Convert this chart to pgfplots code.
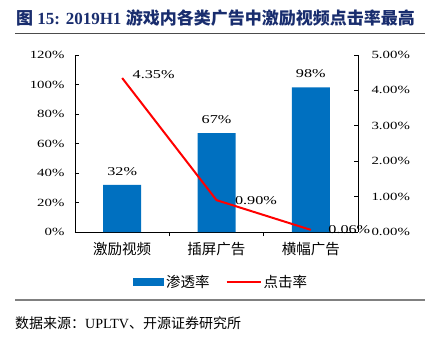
\documentclass[border=0pt]{standalone}
\usepackage{fontspec}
\setmainfont{Liberation Serif}
\newfontfamily\cjk{Noto Sans CJK SC}
\newfontfamily\numf[FakeStretch=1.35]{Liberation Serif}
\usepackage{pgfplots}
\pgfplotsset{compat=1.18}
\definecolor{barblue}{RGB}{0,112,192}
\definecolor{titleblue}{RGB}{25,45,110}
\begin{document}
\begin{tikzpicture}
\path[use as bounding box] (0pt,0pt) rectangle (434pt,346pt);
\node[anchor=west, text=titleblue, font=\fontsize{17}{20}\selectfont\bfseries, inner sep=0pt] at (16pt,328pt) {{\cjk 图} 15: 2019H1 {\cjk 游戏内各类广告中激励视频点击率最高}};
\draw[gray!60!black, line width=0.8pt] (15pt,313pt) -- (425pt,313pt);
\draw[gray, line width=1.2pt] (15pt,46pt) -- (425pt,46pt);
\node[anchor=west, font=\fontsize{14}{16}\selectfont, inner sep=0pt] at (15pt,23pt) {{\cjk 数据来源：}UPLTV{\cjk 、开源证券研究所}};
\begin{axis}[at={(75pt,114pt)}, anchor=south west, scale only axis, width=283pt, height=177pt,
  xmin=-0.5, xmax=2.5, ymin=0, ymax=120,
  axis y line*=left, axis x line*=bottom,
  axis line style={black, line width=0.8pt},
  /pgf/number format/assume math mode=true,
  ytick={0,20,...,120}, yticklabel={\pgfmathprintnumber{\tick}\%},
  yticklabel style={font=\numf\fontsize{11}{12}\selectfont, xshift=-7pt},
  xtick={0,1,2}, xticklabels={激励视频,插屏广告,横幅广告},
  xticklabel style={font=\cjk\fontsize{14.5}{16}\selectfont, yshift=-3pt},
  major x tick style={draw=none},
  minor xtick={0.5,1.5},
  tick style={black, line width=0.8pt}, major tick length=4pt, minor tick length=4pt,
  ybar, bar width=38pt,
  legend style={at={(0.516,-0.282)}, anchor=center, draw=none, legend columns=2,
    /tikz/every even column/.append style={column sep=14pt},
    font=\cjk\fontsize{14.5}{16}\selectfont},
]
\addplot[fill=barblue, draw=none,
  nodes near coords={\pgfmathprintnumber{\pgfplotspointmeta}\%},
  nodes near coords style={font=\numf\fontsize{12}{13}\selectfont, yshift=6pt, black},
  legend image code/.code={\fill[barblue] (0pt,-4pt) rectangle (31pt,4pt);}]
  coordinates {(0,32) (1,67) (2,98)};
\addlegendentry{渗透率}
\addlegendimage{legend image code/.code={\draw[red,line width=2pt] (0pt,0pt) -- (34pt,0pt);}}
\addlegendentry{点击率}
\end{axis}
\begin{axis}[at={(75pt,114pt)}, anchor=south west, scale only axis, width=283pt, height=177pt,
  xmin=-0.5, xmax=2.5, ymin=0, ymax=5, clip=false,
  axis y line*=right, axis x line=none,
  axis line style={black, line width=0.8pt},
  /pgf/number format/assume math mode=true,
  ytick={0,1,...,5},
  yticklabel={\pgfmathprintnumber[fixed,fixed zerofill,precision=2]{\tick}\%},
  yticklabel style={font=\numf\fontsize{11}{12}\selectfont, xshift=10pt},
  tick style={black, line width=0.8pt}, major tick length=4pt,
]
\addplot[red, line width=2pt] coordinates {(0,4.35) (1,0.90) (2,0.06)};
\node[anchor=west, font=\numf\fontsize{12}{13}\selectfont, xshift=7pt, yshift=3pt] at (axis cs:0,4.35) {4.35\%};
\node[anchor=west, font=\numf\fontsize{12}{13}\selectfont, xshift=15pt] at (axis cs:1,0.90) {0.90\%};
\node[anchor=west, font=\numf\fontsize{12}{13}\selectfont, xshift=14pt] at (axis cs:2,0.06) {0.06\%};
\end{axis}
\end{tikzpicture}
\end{document}
